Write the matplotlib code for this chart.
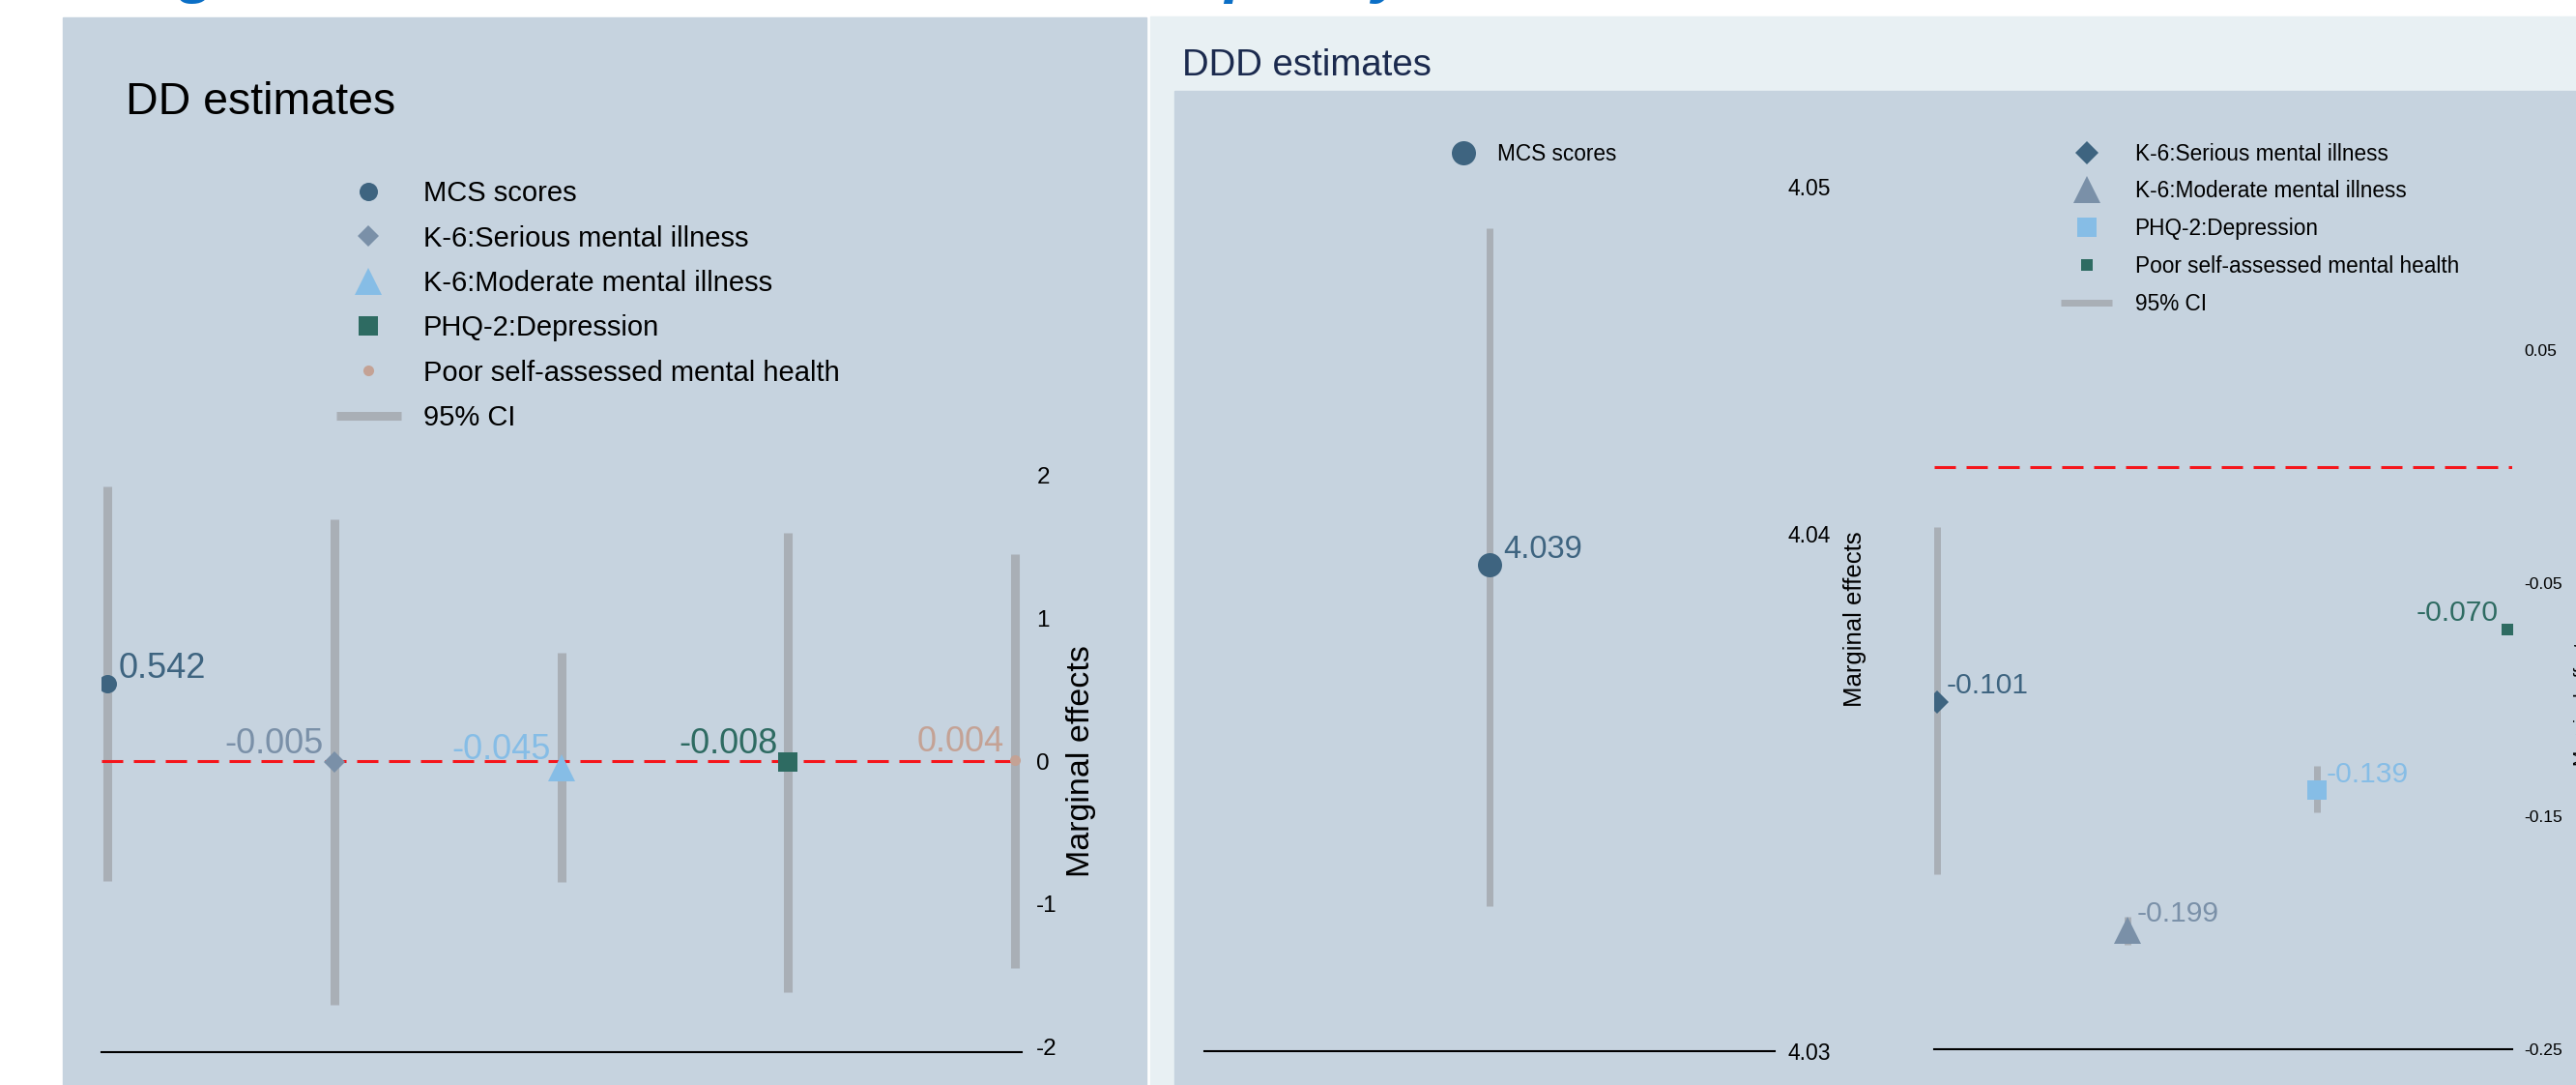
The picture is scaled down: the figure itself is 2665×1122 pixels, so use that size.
import matplotlib.pyplot as plt
from matplotlib.patches import Rectangle
from matplotlib.ticker import FormatStrFormatter

plt.rcParams["font.family"] = ["Liberation Sans", "DejaVu Sans"]
plt.rcParams["axes.unicode_minus"] = False

W, H = 2665, 1122

# DD estimates (left panel), one coefficient per outcome
dd_outcomes = [
    "MCS scores",
    "K-6:Serious mental illness",
    "K-6:Moderate mental illness",
    "PHQ-2:Depression",
    "Poor self-assessed mental health",
]
dd_coef = [0.542, -0.005, -0.045, -0.008, 0.004]
dd_ci_lo = [-0.842, -1.708, -0.847, -1.618, -1.447]
dd_ci_hi = [1.922, 1.695, 0.757, 1.599, 1.450]
dd_ticks = [-2, -1, 0, 1, 2]

# DDD estimates: MCS sits on its own scale, the other four share one
ddd_mcs_coef = 4.0394
ddd_mcs_ci_lo = 4.0328
ddd_mcs_ci_hi = 4.0459
ddd_mcs_ticks = [4.03, 4.04, 4.0467]
ddd_outcomes = dd_outcomes[1:]
ddd_coef = [-0.101, -0.199, -0.139, -0.070]
ddd_ci_lo = [-0.175, -0.205, -0.1485, -0.0715]
ddd_ci_hi = [-0.026, -0.193, -0.1286, -0.0685]
ddd_ticks = [-0.25, -0.15, -0.05, 0.05]

PALETTE = ["#3e6480", "#7a90a8", "#86bde6", "#2e6b62", "#c4a295"]
CI_GREY = "#a9afb6"
PANEL = "#c6d3df"
RED = "#f5161c"


def px_axes(fig, left, top, right, bottom):
    """Axes placed by pixel box (top-left origin)."""
    return fig.add_axes([left / W, 1 - bottom / H, (right - left) / W, (bottom - top) / H])


def style_axes(ax, tick_size, pad):
    ax.set_facecolor("none")
    for side in ["top", "left", "right"]:
        ax.spines[side].set_visible(False)
    ax.spines["bottom"].set_linewidth(1.5)
    ax.spines["bottom"].set_color("black")
    ax.set_xticks([])
    ax.yaxis.tick_right()
    ax.tick_params(axis="y", length=0, pad=pad, labelsize=tick_size)


def zero_line(ax):
    ax.axhline(0, color=RED, lw=2.2, dashes=(7.2, 3.6), zorder=2)


def label_points(ax, xs, ys, colors, sides, size, dx, dy_right, dy_left):
    for x, y, c, side in zip(xs, ys, colors, sides):
        right = side == "right"
        ax.annotate(
            f"{y:.3f}",
            (x, y),
            xytext=(dx if right else -dx, dy_right if right else dy_left),
            textcoords="offset points",
            ha="left" if right else "right",
            va="baseline",
            color=c,
            fontsize=size,
            zorder=5,
        )


def set_right_ylabel(ax, text, size, x_px, left_px, right_px):
    ax.set_ylabel(text, fontsize=size)
    ax.yaxis.set_label_position("right")
    ax.yaxis.label.set_va("center")
    ax.yaxis.set_label_coords((x_px - left_px) / (right_px - left_px), 0.5)


fig = plt.figure(figsize=(W / 100, H / 100), dpi=100, facecolor="white")

# page furniture
fig.add_artist(Rectangle((65 / W, 0), (1186 - 65) / W, 1 - 18 / H,
                         transform=fig.transFigure, color=PANEL, zorder=-2))
fig.add_artist(Rectangle((1190 / W, 0), (W - 1190) / W, 1 - 17 / H,
                         transform=fig.transFigure, color="#e8f0f3", zorder=-2))
fig.add_artist(Rectangle((1215 / W, 0), (W - 1215) / W, 1 - 94 / H,
                         transform=fig.transFigure, color=PANEL, zorder=-1))
fig.text(65 / W, 1 + 8.7 / H, "Long-term mental health effects of the policy",
         fontsize=47, weight="bold", style="italic", color="#0b6fc6", va="baseline")
fig.text(130 / W, 1 - 118 / H, "DD estimates", fontsize=33.5, va="baseline")
fig.text(1223 / W, 1 - 78 / H, "DDD estimates", fontsize=27.6, color="#1b2a4e",
         va="baseline")

# ---- DD panel ----
ax = px_axes(fig, 105, 486, 1057, 1088)
style_axes(ax, 17.5, 11)
xs = list(range(1, len(dd_coef) + 1))
ci = ax.vlines(xs, dd_ci_lo, dd_ci_hi, color=CI_GREY, lw=6.5, zorder=1, label="95% CI")
zero_line(ax)
dd_markers = ["o", "D", "^", "s", "o"]
dd_sizes = [13.7, 10.7, 20, 14.4, 8]
handles = []
for x, y, name, m, s, c in zip(xs, dd_coef, dd_outcomes, dd_markers, dd_sizes, PALETTE):
    (h,) = ax.plot(x, y, ls="none", marker=m, ms=s, mew=0, color=c, label=name, zorder=3)
    handles.append(h)
label_points(ax, xs, dd_coef, PALETTE, ["right", "left", "left", "left", "left"],
             26, 8, 4.3, 6.5)
ax.set_xlim(0.974, 5.03)
ax.set_ylim(-2.04, 2.04)
ax.set_yticks(dd_ticks)
set_right_ylabel(ax, "Marginal effects", 24.5, 1118, 105, 1057)
ax.legend(handles=handles + [ci], loc="upper left",
          bbox_to_anchor=(336 / W, 1 - 174.5 / H), bbox_transform=fig.transFigure,
          frameon=False, fontsize=21, handlelength=2.3, handletextpad=0.8,
          labelspacing=0.63, borderpad=0.4, borderaxespad=0, numpoints=1)

# ---- DDD panel: MCS ----
ax_m = px_axes(fig, 1246, 193, 1836, 1087)
style_axes(ax_m, 16.5, 10)
ax_m.vlines([1], [ddd_mcs_ci_lo], [ddd_mcs_ci_hi], color=CI_GREY, lw=5, zorder=1)
(h_mcs,) = ax_m.plot(1, ddd_mcs_coef, ls="none", marker="o", ms=18, mew=0,
                     color=PALETTE[0], label=dd_outcomes[0], zorder=3)
label_points(ax_m, [1], [ddd_mcs_coef], [PALETTE[0]], ["right"], 23.5, 10.5, 5, 5)
ax_m.set_xlim(0.5, 1.5)
ax_m.set_ylim(ddd_mcs_ticks[0], ddd_mcs_ticks[-1])
ax_m.set_yticks(ddd_mcs_ticks)
ax_m.yaxis.set_major_formatter(FormatStrFormatter("%.2f"))
set_right_ylabel(ax_m, "Marginal effects", 18.5, 1919, 1246, 1836)
ax_m.legend(handles=[h_mcs], loc="upper left",
            bbox_to_anchor=(1494 / W, 1 - 138.5 / H), bbox_transform=fig.transFigure,
            frameon=False, fontsize=16.3, handlelength=1.0, handletextpad=1.05,
            borderpad=0.4, borderaxespad=0, numpoints=1)

# ---- DDD panel: other outcomes ----
ax_r = px_axes(fig, 2001, 362, 2598.5, 1085)
style_axes(ax_r, 12.6, 9)
xs = list(range(1, len(ddd_coef) + 1))
ci = ax_r.vlines(xs, ddd_ci_lo, ddd_ci_hi, color=CI_GREY, lw=5, zorder=1, label="95% CI")
zero_line(ax_r)
ddd_markers = ["D", "^", "s", "s"]
ddd_sizes = [12.7, 20, 13.7, 8]
handles = []
for x, y, name, m, s, c in zip(xs, ddd_coef, ddd_outcomes, ddd_markers, ddd_sizes, PALETTE):
    (h,) = ax_r.plot(x, y, ls="none", marker=m, ms=s, mew=0, color=c, label=name, zorder=3)
    handles.append(h)
label_points(ax_r, xs, ddd_coef, PALETTE, ["right", "right", "right", "left"],
             21.6, 7, 6.3, 6.8)
ax_r.set_xlim(0.985, 4.023)
ax_r.set_ylim(ddd_ticks[0], ddd_ticks[-1])
ax_r.set_yticks(ddd_ticks)
ax_r.yaxis.set_major_formatter(FormatStrFormatter("%.2f"))
set_right_ylabel(ax_r, "Marginal effects", 14, 2672, 2001, 2598.5)
ax_r.legend(handles=handles + [ci], loc="upper left",
            bbox_to_anchor=(2123 / W, 1 - 138.5 / H), bbox_transform=fig.transFigure,
            frameon=False, fontsize=16.3, handlelength=2.34, handletextpad=1.04,
            labelspacing=0.70, borderpad=0.4, borderaxespad=0, numpoints=1)

fig.savefig("out.png", dpi=100)
